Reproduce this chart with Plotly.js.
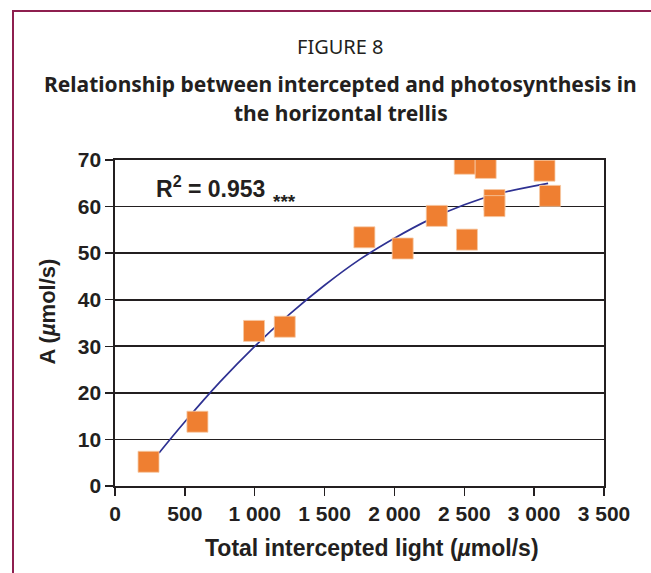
<!DOCTYPE html>
<html>
<head>
<meta charset="utf-8">
<script src="https://cdn.plot.ly/plotly-3.0.1.min.js"></script>
<style>
  html, body { margin: 0; padding: 0; background: #fff; overflow: hidden; }
  #wrap { position: relative; width: 651px; height: 573px; }
  #frame { position: absolute; left: 12px; top: 10px; width: 700px; height: 700px;
           border-left: 2px solid #8e1f4f; border-top: 2px solid #8e1f4f; pointer-events: none; z-index: 5; }
  #chart { position: absolute; left: 0; top: 0; width: 651px; height: 573px; }
</style>
</head>
<body>
<div id="wrap">
  <div id="chart"></div>
  <div id="frame"></div>
</div>
<script>
// Measured points: total intercepted light (µmol/s) vs A (µmol/s)
const lightValues = [240, 590, 995, 1215, 1785, 2059, 2303, 2519, 2503, 2653, 2716, 2716, 3074, 3114];
const photoValues = [5.2, 13.8, 33.3, 34.2, 53.4, 51.0, 58.0, 52.9, 69.2, 68.3, 61.4, 60.1, 67.7, 62.3];

// Trend curve
const trendX = [315, 500, 750, 1000, 1250, 1500, 1750, 2000, 2250, 2500, 2750, 3100];
const trendY = [7.1, 13.8, 22.3, 30.0, 36.9, 43.1, 48.6, 53.2, 57.2, 60.4, 62.8, 65.0];

const xTickVals = [0, 500, 1000, 1500, 2000, 2500, 3000, 3500];
const xTickText = ['0', '500', '1 000', '1 500', '2 000', '2 500', '3 000', '3 500'];
const yTickVals = [0, 10, 20, 30, 40, 50, 60, 70];

const ink = '#231f20';
const tickFont = {family: 'Liberation Sans, Arial, sans-serif', size: 21, weight: 'bold', color: ink};

const traces = [
  {x: trendX, y: trendY, type: 'scatter', mode: 'lines',
   line: {color: '#2e3192', width: 1.7, shape: 'spline'}, hoverinfo: 'skip'},
  {x: lightValues, y: photoValues, type: 'scatter', mode: 'markers',
   marker: {symbol: 'square', size: 21, color: '#ef7f31', line: {color: '#f6c9a4', width: 0.8}}}
];

const layout = {
  width: 651, height: 573,
  margin: {l: 115, r: 47, t: 160, b: 87},
  paper_bgcolor: '#ffffff', plot_bgcolor: '#ffffff',
  showlegend: false,
  xaxis: {range: [0, 3500], tickvals: xTickVals, ticktext: xTickText,
          showgrid: false, zeroline: false, showline: true, linecolor: ink, linewidth: 1.6,
          mirror: true, ticks: 'outside', ticklen: 8, tickwidth: 1.4, tickcolor: ink,
          tickfont: tickFont, fixedrange: true},
  yaxis: {range: [0, 70], tickvals: yTickVals,
          showgrid: true, gridcolor: ink, gridwidth: 1.6, zeroline: false,
          showline: true, linecolor: ink, linewidth: 1.6, mirror: true,
          ticks: 'outside', ticklen: 8, tickwidth: 1.4, tickcolor: ink,
          tickfont: tickFont, fixedrange: true},
  annotations: [
    {text: 'FIGURE 8', xref: 'paper', yref: 'paper', x: 0.462, y: 1.347,
     xanchor: 'center', yanchor: 'middle', showarrow: false,
     font: {family: 'Noto Sans, sans-serif', size: 20, color: ink}},
    {text: 'Relationship between intercepted and photosynthesis in', xref: 'paper', yref: 'paper',
     x: 0.462, y: 1.233, xanchor: 'center', yanchor: 'middle', showarrow: false,
     font: {family: 'Noto Sans, sans-serif', size: 21, weight: 'bold', color: ink}},
    {text: 'the horizontal trellis', xref: 'paper', yref: 'paper',
     x: 0.462, y: 1.144, xanchor: 'center', yanchor: 'middle', showarrow: false,
     font: {family: 'Noto Sans, sans-serif', size: 21, weight: 'bold', color: ink}},
    {text: 'R<sup>2</sup> = 0.953', xref: 'paper', yref: 'paper', x: 0.080, y: 0.918,
     xanchor: 'left', yanchor: 'middle', showarrow: false,
     font: {family: 'Liberation Sans, Arial, sans-serif', size: 23, weight: 'bold', color: ink}},
    {text: '***', xref: 'paper', yref: 'paper', x: 0.318, y: 0.872,
     xanchor: 'left', yanchor: 'middle', showarrow: false,
     font: {family: 'Liberation Sans, Arial, sans-serif', size: 19, weight: 'bold', color: ink}},
    {text: 'A (<i>µ</i>mol/s)', xref: 'paper', yref: 'paper', x: -0.137, y: 0.535,
     xanchor: 'center', yanchor: 'middle', textangle: -90, showarrow: false,
     font: {family: 'Liberation Sans, Arial, sans-serif', size: 22, weight: 'bold', color: ink}},
    {text: 'Total intercepted light (<i>µ</i>mol/s)', xref: 'paper', yref: 'paper', x: 0.526, y: -0.190,
     xanchor: 'center', yanchor: 'middle', showarrow: false,
     font: {family: 'Liberation Sans, Arial, sans-serif', size: 23, weight: 'bold', color: ink}}
  ]
};

Plotly.newPlot('chart', traces, layout, {displayModeBar: false, staticPlot: true});
</script>
</body>
</html>
